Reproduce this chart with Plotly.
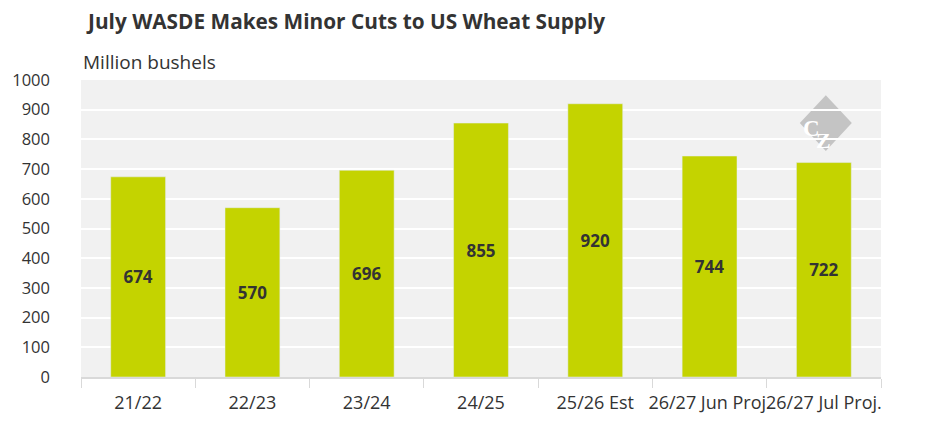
import plotly.graph_objects as go

seasons = ["21/22", "22/23", "23/24", "24/25", "25/26 Est", "26/27 Jun Proj.", "26/27 Jul Proj."]
ending_stocks = [674, 570, 696, 855, 920, 744, 722]

fig = go.Figure()
fig.add_trace(
    go.Bar(
        x=seasons,
        y=ending_stocks,
        width=0.48,
        marker_color="#c4d300",
        text=ending_stocks,
        textposition="inside",
        insidetextanchor="middle",
        textfont=dict(family="Open Sans", size=17, color="#333333", weight="bold"),
    )
)

# CZ logo: grey diamond behind the gridlines, letters on top
cx, cy, hw, hh = 0.931, 0.855, 0.0325, 0.094
fig.add_shape(
    type="path",
    xref="paper", yref="paper",
    path=f"M {cx} {cy + hh} L {cx + hw} {cy} L {cx} {cy - hh} L {cx - hw} {cy} Z",
    fillcolor="#c4c4c4", line_width=0, layer="below",
)
fig.add_annotation(
    xref="paper", yref="paper", x=cx, y=cy, xshift=-4, yshift=9, text="<b>C</b>",
    showarrow=False, font=dict(family="Liberation Serif", size=23, color="#ffffff"),
)
fig.add_annotation(
    xref="paper", yref="paper", x=cx, y=cy, xshift=7, yshift=-3, text="<b>Z</b>",
    showarrow=False, font=dict(family="Liberation Serif", size=22, color="#ffffff"),
)
fig.add_annotation(
    xref="paper", yref="paper", x=0, y=1.06, xanchor="left", yanchor="middle",
    text="Million bushels", showarrow=False,
    font=dict(family="Open Sans", size=19, color="#333333"),
)

fig.update_layout(
    width=945,
    height=443,
    margin=dict(l=73, r=72, t=72, b=74),
    paper_bgcolor="white",
    plot_bgcolor="#f1f1f1",
    font=dict(family="Open Sans", color="#333333"),
    showlegend=False,
    title=dict(
        text="<b>July WASDE Makes Minor Cuts to US Wheat Supply</b>",
        x=0.0847, xanchor="left", y=0.968, yanchor="middle",
        font=dict(family="Open Sans", size=20.8, color="#333333"),
    ),
)
fig.update_yaxes(
    range=[0, 1000], dtick=100, gridcolor="white", gridwidth=2, automargin=False,
    tickfont=dict(size=16.5, color="#333333"), zeroline=False, ticks="", ticklabelstandoff=30,
)
fig.update_xaxes(
    tickson="boundaries", ticks="outside", ticklen=9, tickcolor="#d9d9d9", tickwidth=1,
    showline=True, linecolor="#d9d9d9", linewidth=2, tickangle=0, automargin=False,
    tickfont=dict(size=18, color="#333333"), ticklabelstandoff=8,
)

fig.write_html("out.html")
